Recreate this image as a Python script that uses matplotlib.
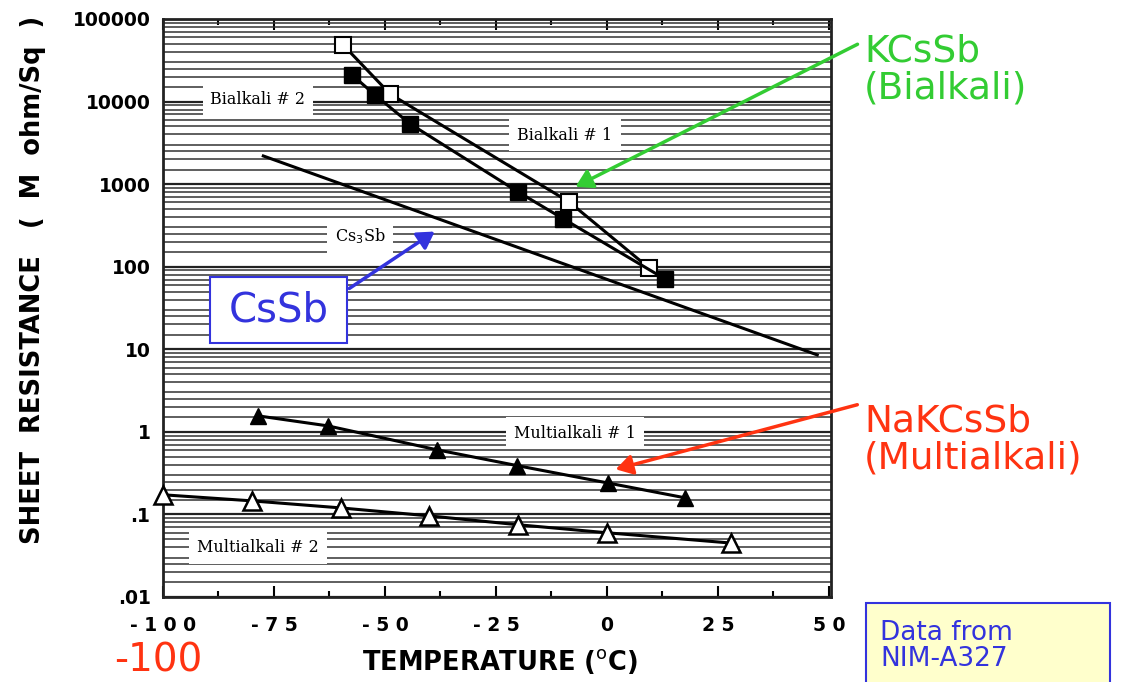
import matplotlib
matplotlib.use("Agg")
import matplotlib.pyplot as plt
from matplotlib.patches import Rectangle, FancyArrowPatch
from matplotlib.ticker import LogLocator, FixedLocator, NullFormatter, MultipleLocator

# ---- data ----
bialk_open_T = [-59.4, -48.8, -8.5, 9.5]
bialk_open_R = [48400, 12300, 609, 96.6]
bialk_fill_T = [-57.4, -52.2, -44.3, -20.0, -9.8, 13.1]
bialk_fill_R = [21000, 12000, 5360, 805, 380, 71]
cs3sb_T = [-77.4, 47.4]
cs3sb_R = [2195, 8.55]
multi1_T = [-78.5, -62.8, -38.2, -20.2, 0.3, 17.6]
multi1_R = [1.56, 1.18, 0.605, 0.39, 0.24, 0.159]
multi2_T = [-100, -80, -60, -40, -20, 0, 28]
multi2_R = [0.173, 0.146, 0.12, 0.096, 0.075, 0.060, 0.045]

xticks = [-100, -75, -50, -25, 0, 25, 50]
xticklabels = ["- 1 0 0", "- 7 5", "- 5 0", "- 2 5", "0", "2 5", "5 0"]
yticks = [0.01, 0.1, 1, 10, 100, 1000, 10000, 100000]
yticklabels = [".01", ".1", "1", "10", "100", "1000", "10000", "100000"]

W, H = 1128, 682
fig = plt.figure(figsize=(W / 100, H / 100), dpi=100)
ax = fig.add_axes([163 / W, 1 - 597 / H, (831 - 163) / W, (597 - 19) / H])

ax.set_yscale("log")
ax.set_xlim(-100, 50.5)
ax.set_ylim(0.01, 100000)

# log-paper horizontal grid
ax.yaxis.set_major_locator(FixedLocator(yticks))
ax.yaxis.set_minor_locator(LogLocator(base=10, subs=[1.5, 2, 2.5, 3, 4, 5, 6, 7, 8, 9], numticks=50))
ax.yaxis.set_minor_formatter(NullFormatter())
ax.grid(True, axis="y", which="major", color="#222222", lw=1.6, zorder=0)
ax.grid(True, axis="y", which="minor", color="#333333", lw=1.1, zorder=0)
ax.tick_params(axis="y", which="both", length=0, pad=9)
ax.set_yticklabels(yticklabels, fontsize=13.5, fontweight="bold", fontfamily="DejaVu Sans")

ax.set_xticks(xticks)
ax.set_xticklabels(xticklabels, fontsize=13.5, fontweight="bold")
ax.xaxis.set_minor_locator(MultipleLocator(12.5))
ax.tick_params(axis="x", which="major", direction="in", length=8, width=1.5, top=True, pad=14)
ax.tick_params(axis="x", which="minor", direction="in", length=4, width=1.5, top=True)

for s in ax.spines.values():
    s.set_linewidth(2)
    s.set_color("#222222")

# series
ax.plot(bialk_open_T, bialk_open_R, "-", color="black", lw=2.2, marker="s", ms=12,
        mfc="white", mec="black", mew=1.5, zorder=4)
ax.plot(bialk_fill_T, bialk_fill_R, "-", color="black", lw=2.2, marker="s", ms=12,
        mfc="black", mec="black", zorder=5)
ax.plot(cs3sb_T, cs3sb_R, "-", color="black", lw=2.2, zorder=4)
ax.plot(multi1_T, multi1_R, "-", color="black", lw=2.2, marker="^", ms=12,
        mfc="black", mec="black", zorder=4)
ax.plot(multi2_T, multi2_R, "-", color="black", lw=2.2, marker="^", ms=13,
        mfc="white", mec="black", mew=1.8, zorder=4, clip_on=False)

# in-chart labels
lab_kw = dict(fontsize=11.5, fontfamily="DejaVu Serif", ha="center", va="center", zorder=3,
              bbox=dict(boxstyle="square,pad=0.5", fc="white", ec="none"))
def px(x, y):
    return (x / W, 1 - y / H)

fig.text(*px(258, 100), "Bialkali # 2", **lab_kw)
fig.text(*px(565, 135), "Bialkali # 1", **lab_kw)
fig.text(*px(360, 236), "Cs$_3$Sb", **lab_kw)
fig.text(*px(575, 433), "Multialkali # 1", **lab_kw)
fig.text(*px(258, 548), "Multialkali # 2", **lab_kw)

# axis labels
fig.text(*px(33, 280), "SHEET  RESISTANCE   (  M  ohm/Sq  )", rotation=90, fontsize=18.5,
         fontweight="bold", ha="center", va="center")
fig.text(*px(500, 662), "TEMPERATURE ($^{\\mathrm{o}}$C)", fontsize=18.5, fontweight="bold",
         ha="center", va="center")

# annotations
green = "#33cc33"
red = "#ff3311"
blue = "#3333dd"
fig.text(*px(864, 70), "KCsSb\n(Bialkali)", color=green, fontsize=27, ha="left", va="center",
         linespacing=1.05)
fig.text(*px(864, 440), "NaKCsSb\n(Multialkali)", color=red, fontsize=27, ha="left", va="center",
         linespacing=1.05)

fig.add_artist(Rectangle(px(210, 343), 137 / W, 66 / H, transform=fig.transFigure,
                         fc="white", ec=blue, lw=1.5, zorder=6))
fig.text(*px(279, 310), "CsSb", color=blue, fontsize=29, ha="center", va="center", zorder=7)

fig.text(*px(158, 660), "-100", color=red, fontsize=28, ha="center", va="center")

fig.add_artist(Rectangle(px(866, 700), 244 / W, 97 / H, transform=fig.transFigure,
                         fc="#ffffcc", ec=blue, lw=1.5, zorder=6, clip_on=False))
fig.text(*px(880, 646), "Data from\nNIM-A327", color=blue, fontsize=19, ha="left", va="center",
         linespacing=1.05, zorder=7)

def arrow(x0, y0, x1, y1, c):
    fig.add_artist(FancyArrowPatch(
        px(x0, y0), px(x1, y1), transform=fig.transFigure, color=c, lw=2.5,
        arrowstyle="-|>,head_length=10,head_width=6", zorder=8))

arrow(860, 43, 573, 188, green)
arrow(347, 290, 437, 230, blue)
arrow(860, 404, 613, 470, red)

fig.savefig("out.png", dpi=100)
